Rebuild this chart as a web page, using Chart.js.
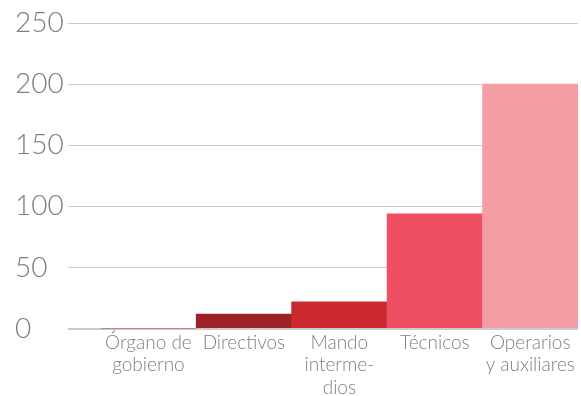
<!DOCTYPE html>
<html>
<head>
<meta charset="utf-8">
<script src="https://cdn.jsdelivr.net/npm/chart.js@4"></script>
<style>
  html, body { margin: 0; padding: 0; background: #fff; }
  #wrap { width: 581px; height: 396px; }
</style>
</head>
<body>
<div id="wrap"><canvas id="bar-chart" width="581" height="396"></canvas></div>
<script>
const categories = [
  ["Órgano de", "gobierno"],
  "Directivos",
  ["Mando", "interme-", "dios"],
  "Técnicos",
  ["Operarios", "y auxiliares"]
];
const employees = [0, 12, 22, 94, 200];
const yTicks = [0, 50, 100, 150, 200, 250];

const barColors = ["#9b2229", "#9b2229", "#cb2930", "#ef4e63", "#f49da5"];
const textColor = "#867b7d";
const gridColor = "#cbcbcb";

const ctx = document.getElementById("bar-chart").getContext("2d");

new Chart(ctx, {
  type: "bar",
  data: {
    labels: categories,
    datasets: [
      {
        data: employees,
        backgroundColor: barColors,
        borderWidth: 0,
        barPercentage: 1,
        categoryPercentage: 1
      }
    ]
  },
  options: {
    responsive: false,
    animation: false,
    layout: {
      padding: { top: 23, right: 3, bottom: 2, left: 15 }
    },
    plugins: {
      legend: { display: false },
      tooltip: { enabled: false }
    },
    scales: {
      x: {
        grid: { display: false },
        border: { display: false },
        ticks: {
          color: textColor,
          font: { family: "Lato", size: 19, weight: 300, lineHeight: 1.18 },
          maxRotation: 0,
          autoSkip: false,
          padding: -5
        }
      },
      y: {
        min: yTicks[0],
        max: yTicks[yTicks.length - 1],
        afterBuildTicks: (axis) => {
          axis.ticks = yTicks.map((v) => ({ value: v }));
        },
        border: { display: false },
        grid: {
          color: gridColor,
          tickColor: gridColor,
          tickLength: 33,
          lineWidth: (c) => (c.tick && c.tick.value === 0 ? 2 : 1)
        },
        ticks: {
          color: textColor,
          font: { family: "Lato", size: 28, weight: 300 },
          crossAlign: "far",
          padding: 2
        }
      }
    }
  }
});
</script>
</body>
</html>
